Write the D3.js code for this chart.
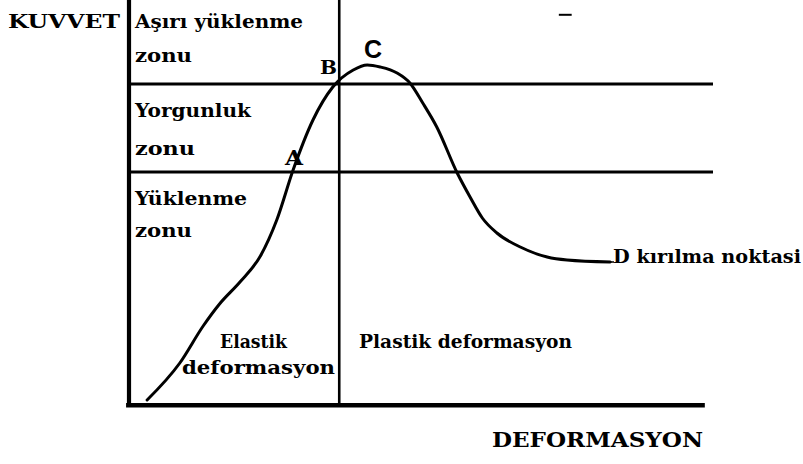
<!DOCTYPE html>
<html>
<head>
<meta charset="utf-8">
<script src="https://cdn.jsdelivr.net/npm/d3@7"></script>
<style>
  html, body { margin: 0; padding: 0; background: #fff; }
  svg { display: block; }
  text { font-family: "DejaVu Serif", "Liberation Serif", serif; font-weight: bold; fill: #000; }
</style>
</head>
<body>
<svg id="chart" width="803" height="464"></svg>
<script>
// Force–deformation curve (deformation on x, force on y, both 0–100 units)
const curveX = [3.1, 8.7, 12.7, 15.5, 19, 22.5, 25.3, 28.1, 31.5, 34.9, 38.4, 40.8, 43, 45.9, 48.1, 50.3, 52.7, 56.2, 58.4, 60.5, 63, 67, 71.6, 75, 82.4];
const curveY = [1, 10.25, 19.5, 25, 30.5, 37, 46, 58.5, 71, 79.25, 83.5, 84.75, 84.25, 82.75, 80.25, 75.25, 69.25, 57.75, 51.75, 46.5, 42.75, 39.25, 36.75, 36, 35.5];

// Zone boundaries on the force axis and the elastic limit on the deformation axis
const zoneLimits = [58, 80];        // A: loading → fatigue, B: fatigue → overload
const elasticLimit = 36;

// Texts
const axisTitles = ["KUVVET", "DEFORMASYON"];
const zoneLabels = [["Aşırı yüklenme", "zonu"], ["Yorgunluk", "zonu"], ["Yüklenme", "zonu"]];
const regionLabels = [["Elastik", "deformasyon"], ["Plastik deformasyon"]];
const pointLabels = ["A", "B", "C"];
const breakLabel = "D kırılma noktasi";

const svg = d3.select("#chart");
const x = d3.scaleLinear().domain([0, 100]).range([129, 713]);
const y = d3.scaleLinear().domain([0, 100]).range([404, 4]);
const yTop = 101;

// Zone boundary lines
svg.selectAll("line.zone").data(zoneLimits).join("line")
  .attr("class", "zone")
  .attr("x1", x(0)).attr("x2", x(100))
  .attr("y1", d => y(d)).attr("y2", d => y(d))
  .attr("stroke", "#000").attr("stroke-width", 3.2);

// Elastic / plastic divider
svg.append("line")
  .attr("x1", x(elasticLimit)).attr("x2", x(elasticLimit))
  .attr("y1", y(yTop)).attr("y2", y(0))
  .attr("stroke", "#000").attr("stroke-width", 2.6);

// Axes
svg.append("line")
  .attr("x1", x(0)).attr("x2", x(0))
  .attr("y1", y(yTop)).attr("y2", y(-0.75))
  .attr("stroke", "#000").attr("stroke-width", 4.2);
svg.append("line")
  .attr("x1", x(-0.5)).attr("x2", x(98.6))
  .attr("y1", y(-0.3)).attr("y2", y(-0.3))
  .attr("stroke", "#000").attr("stroke-width", 4.5);

// Curve
const pts = curveX.map((v, i) => [v, curveY[i]]);
const line = d3.line().x(d => x(d[0])).y(d => y(d[1])).curve(d3.curveMonotoneX);
svg.append("path")
  .attr("d", line(pts))
  .attr("fill", "none").attr("stroke", "#000").attr("stroke-width", 3)
  .attr("stroke-linecap", "round");

// small stray dash near the top
svg.append("line")
  .attr("x1", x(73.6)).attr("x2", x(75.8))
  .attr("y1", y(97.3)).attr("y2", y(97.3))
  .attr("stroke", "#000").attr("stroke-width", 2);

function label(txt, px, py, w, size) {
  svg.append("text")
    .attr("x", px).attr("y", py)
    .attr("font-size", size || 19)
    .attr("textLength", w).attr("lengthAdjust", "spacingAndGlyphs")
    .text(txt);
}

// Axis titles
label(axisTitles[0], 8, 28, 112, 19);
label(axisTitles[1], 492, 447, 211, 20);

// Zone labels
const zoneLeft = x(0) + 6;
const zoneRows = [[28, 62], [117, 155], [205, 237]];
const zoneWidths = [[168, 57], [116, 60], [112, 57]];
zoneLabels.forEach((lines, i) => {
  lines.forEach((t, j) => label(t, zoneLeft, zoneRows[i][j], zoneWidths[i][j], 19));
});

// Region labels
label(regionLabels[0][0], 220, 348, 67, 19);
label(regionLabels[0][1], 182, 374, 153, 19);
label(regionLabels[1][0], 359, 348, 213, 19);

// Point labels
label(pointLabels[0], 285, 165, 18, 20);
label(pointLabels[1], 320, 74, 17, 19);
svg.append("text").attr("x", 364).attr("y", 58).attr("font-size", 25)
  .style("font-family", "'Liberation Sans', sans-serif").text(pointLabels[2]);

// Breaking point: leader line from the curve end to the label
svg.append("line")
  .attr("x1", x(82.4)).attr("x2", 614)
  .attr("y1", y(35.5)).attr("y2", y(35.5))
  .attr("stroke", "#000").attr("stroke-width", 1.5);
label(breakLabel, 613, 263, 188, 19);
</script>
</body>
</html>
